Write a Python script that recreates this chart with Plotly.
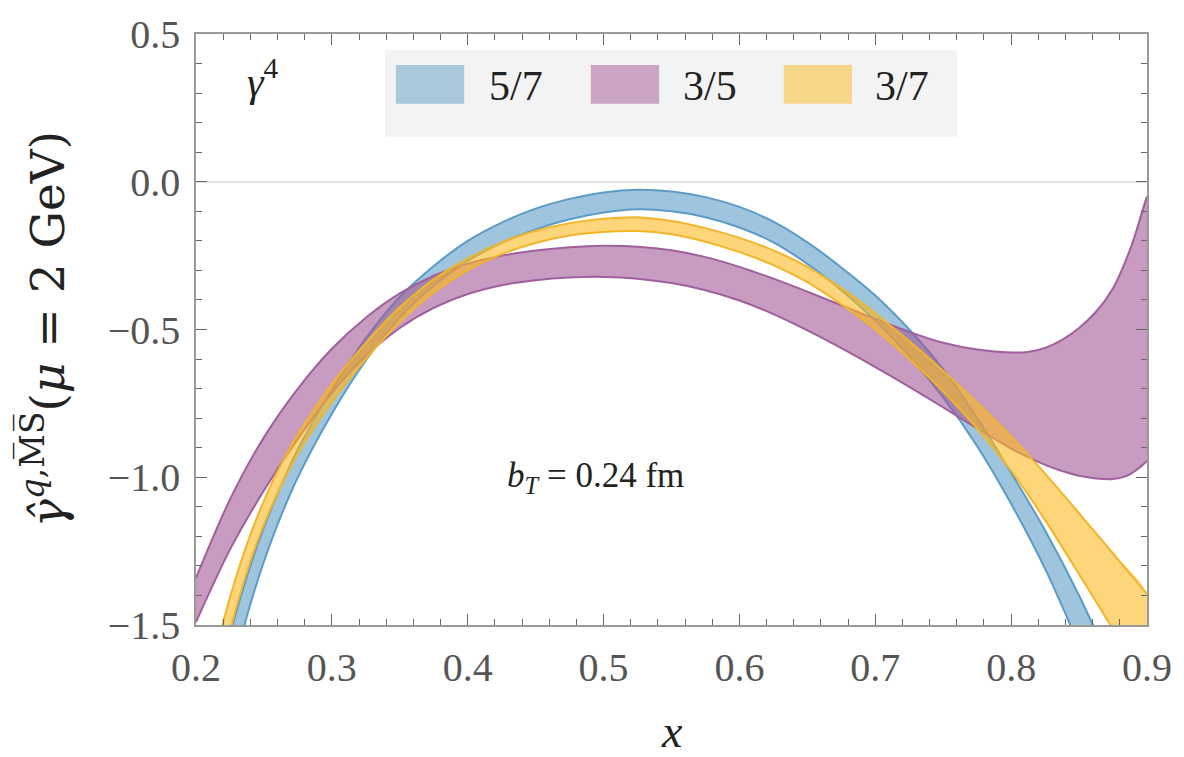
import plotly.graph_objects as go

# ---------------- data ----------------
blue_x = [0.22, 0.23, 0.24, 0.25, 0.26, 0.275, 0.30, 0.325, 0.35, 0.375, 0.40, 0.425, 0.45, 0.475, 0.50,
          0.525, 0.55, 0.575, 0.60, 0.625, 0.65, 0.675, 0.70, 0.725, 0.75, 0.775, 0.80, 0.825, 0.85, 0.87]
blue_hi = [-1.62, -1.45, -1.30, -1.17, -1.055, -0.905, -0.705, -0.53, -0.39, -0.285, -0.20, -0.138, -0.091, -0.058, -0.036,
           -0.027, -0.033, -0.052, -0.085, -0.135, -0.205, -0.29, -0.385, -0.50, -0.635, -0.80, -0.985, -1.18, -1.40, -1.60]
blue_lo = [-1.80, -1.60, -1.43, -1.285, -1.16, -1.0, -0.785, -0.605, -0.46, -0.352, -0.268, -0.207, -0.161, -0.127, -0.104,
           -0.093, -0.10, -0.12, -0.155, -0.205, -0.278, -0.367, -0.47, -0.59, -0.73, -0.895, -1.09, -1.31, -1.57, -1.80]

purple_x = [0.20, 0.225, 0.25, 0.275, 0.30, 0.325, 0.35, 0.375, 0.40, 0.425, 0.45, 0.475, 0.50, 0.525, 0.55,
            0.575, 0.60, 0.625, 0.65, 0.675, 0.70, 0.725, 0.75, 0.775, 0.80, 0.8125, 0.825, 0.8375, 0.85,
            0.8625, 0.875, 0.8875, 0.90]
purple_hi = [-1.34, -1.075, -0.865, -0.70, -0.565, -0.46, -0.378, -0.318, -0.277, -0.25, -0.233, -0.222, -0.217, -0.22, -0.232,
             -0.255, -0.288, -0.328, -0.372, -0.418, -0.464, -0.508, -0.545, -0.568, -0.578, -0.576, -0.562, -0.535, -0.495,
             -0.44, -0.36, -0.23, -0.05]
purple_lo = [-1.49, -1.245, -1.045, -0.87, -0.715, -0.59, -0.495, -0.427, -0.38, -0.35, -0.333, -0.324, -0.322, -0.328, -0.343,
             -0.367, -0.402, -0.448, -0.503, -0.563, -0.627, -0.694, -0.764, -0.835, -0.903, -0.932, -0.958, -0.979, -0.995,
             -1.004, -1.006, -0.99, -0.945]

yellow_x = [0.21, 0.22, 0.23, 0.24, 0.25, 0.26, 0.275, 0.30, 0.325, 0.35, 0.375, 0.40, 0.425, 0.45, 0.475, 0.50,
            0.525, 0.55, 0.575, 0.60, 0.625, 0.65, 0.675, 0.70, 0.725, 0.75, 0.775, 0.80, 0.825, 0.85, 0.875, 0.90]
yellow_hi = [-1.68, -1.49, -1.33, -1.195, -1.08, -0.98, -0.855, -0.685, -0.545, -0.425, -0.33, -0.26, -0.205, -0.166, -0.14, -0.125,
             -0.12, -0.133, -0.157, -0.19, -0.232, -0.288, -0.36, -0.445, -0.54, -0.64, -0.748, -0.862, -0.988, -1.122, -1.258, -1.395]
yellow_lo = [-1.85, -1.62, -1.435, -1.285, -1.16, -1.055, -0.92, -0.745, -0.60, -0.475, -0.375, -0.30, -0.245, -0.207, -0.182, -0.17,
             -0.167, -0.178, -0.203, -0.238, -0.282, -0.34, -0.415, -0.50, -0.60, -0.71, -0.835, -0.978, -1.145, -1.328, -1.515, -1.70]

labels = ["5/7", "3/5", "3/7"]
base_rgb = [(94, 158, 198), (163, 88, 150), (252, 185, 33)]
edge_colors = ["#5b9bc6", "#a0609e", "#f2b52a"]

series = [
    (blue_x, blue_hi, blue_lo),
    (purple_x, purple_hi, purple_lo),
    (yellow_x, yellow_hi, yellow_lo),
]

FONT = "Liberation Serif"
TXT = "#222222"

fig = go.Figure()

for (xs, hi, lo), rgb, ec, lab in zip(series, base_rgb, edge_colors, labels):
    fill = "rgba(%d,%d,%d,0.6)" % rgb
    fig.add_trace(go.Scatter(
        x=list(xs) + list(xs)[::-1], y=list(hi) + list(lo)[::-1],
        fill="toself", fillcolor=fill, mode="lines",
        line=dict(width=0, shape="spline", smoothing=0.8),
        name=lab, showlegend=False, hoverinfo="skip"))
    for edge in (hi, lo):
        fig.add_trace(go.Scatter(
            x=xs, y=edge, mode="lines",
            line=dict(color=ec, width=2, shape="spline", smoothing=0.8),
            showlegend=False, hoverinfo="skip"))

axis_common = dict(
    showgrid=False, showline=True, linecolor="#999999", linewidth=1.5, mirror="ticks",
    ticks="inside", ticklen=11, tickwidth=1.3, tickcolor="#666666",
    tickfont=dict(family=FONT, size=40, color="#555555"),
)

fig.update_xaxes(range=[0.2, 0.9], dtick=0.1, tick0=0.2, tickformat=".1f",
                 minor=dict(dtick=0.02, ticklen=6, ticks="inside", tickcolor="#666666", tickwidth=1),
                 ticklabelstandoff=6, zeroline=False, **axis_common)
fig.update_yaxes(range=[-1.5, 0.5], dtick=0.5, tick0=0, tickformat=".1f",
                 minor=dict(dtick=0.1, ticklen=6, ticks="inside", tickcolor="#666666", tickwidth=1),
                 ticklabelstandoff=6, zeroline=True, zerolinecolor="#e3e3e3", zerolinewidth=2,
                 **axis_common)

shapes = []
annotations = []

# manual legend box
shapes.append(dict(type="rect", xref="paper", yref="paper", x0=0.1988, x1=0.8002, y0=0.8263, y1=0.973,
                   fillcolor="#f3f3f3", line=dict(width=0), layer="above"))
sw_x0 = [0.2102, 0.4152, 0.6181]
lab_x = [0.306, 0.510, 0.7118]
for x0, lx, rgb, lab in zip(sw_x0, lab_x, base_rgb, labels):
    shapes.append(dict(type="rect", xref="paper", yref="paper", x0=x0, x1=x0 + 0.0718, y0=0.882, y1=0.9477,
                       fillcolor="rgba(%d,%d,%d,0.5)" % rgb, line=dict(width=0), layer="above"))
    annotations.append(dict(xref="paper", yref="paper", x=lx, y=0.912, xanchor="left", yanchor="middle",
                            text=lab, showarrow=False, font=dict(family=FONT, size=42, color=TXT)))

annotations.append(dict(xref="paper", yref="paper", x=0.07, y=0.925, xanchor="center", yanchor="middle",
                        text="<i>γ</i><sup>4</sup>", showarrow=False,
                        font=dict(family=FONT, size=42, color=TXT)))
annotations.append(dict(xref="x", yref="y", x=0.494, y=-1.0, xanchor="center", yanchor="middle",
                        text="<i>b</i><sub><i>T</i></sub> = 0.24 fm", showarrow=False,
                        font=dict(family=FONT, size=35, color=TXT)))
annotations.append(dict(xref="paper", yref="paper", x=-0.16, y=0.5, xanchor="center", yanchor="middle",
                        textangle=-90,
                        text="<i>γ̂</i><sup><i>q</i>,M̅S̅</sup>(<i>μ</i> = 2 GeV)", showarrow=False,
                        font=dict(family="DejaVu Serif", size=47, color=TXT)))
annotations.append(dict(xref="paper", yref="paper", x=0.5, y=-0.226, xanchor="center", yanchor="bottom",
                        text="<i>x</i>", showarrow=False,
                        font=dict(family=FONT, size=46, color=TXT)))

fig.update_layout(
    width=1184, height=757,
    margin=dict(l=196, r=27, t=32, b=132),
    paper_bgcolor="white", plot_bgcolor="white",
    showlegend=False, shapes=shapes, annotations=annotations,
)

fig.write_html("out.html")
